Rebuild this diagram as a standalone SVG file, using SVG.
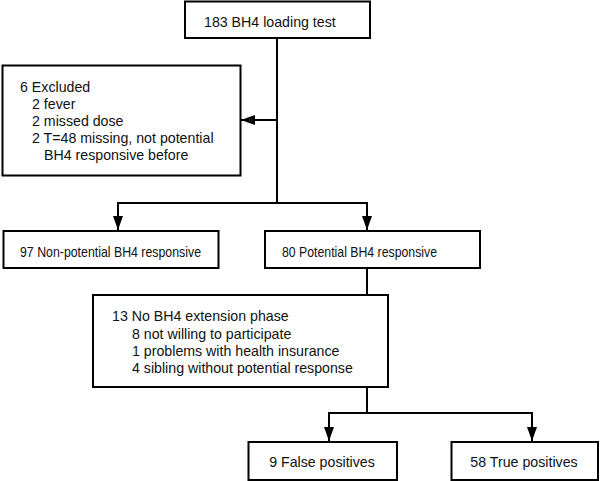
<svg xmlns="http://www.w3.org/2000/svg" width="600" height="481" viewBox="0 0 600 481">
<style>
.box{fill:#fff;stroke:#000;stroke-width:2}
.t{font-family:"Liberation Sans",Arial,sans-serif;font-size:14.2px;fill:#111}
.c{fill:none;stroke:#000;stroke-width:2}
</style>
<defs>
<marker id="ah" viewBox="0 0 14 10" refX="14" refY="5" markerWidth="14" markerHeight="10" markerUnits="userSpaceOnUse" orient="auto">
<path d="M0,0 L14,5 L0,10 Z" fill="#000"/>
</marker>
</defs>
<g id="connectors">
<line class="c" x1="277" y1="38" x2="277" y2="203"/>
<line class="c" x1="277" y1="120" x2="241" y2="120" marker-end="url(#ah)"/>
<polyline class="c" points="118,230 118,203 367,203 367,230"/>
<line class="c" x1="118" y1="210" x2="118" y2="230" marker-end="url(#ah)"/>
<line class="c" x1="367" y1="210" x2="367" y2="230" marker-end="url(#ah)"/>
<line class="c" x1="367" y1="268" x2="367" y2="413"/>
<line class="c" x1="367" y1="341" x2="388" y2="341" marker-end="url(#ah)"/>
<polyline class="c" points="329,441 329,413 532,413 532,441"/>
<line class="c" x1="329" y1="420" x2="329" y2="441" marker-end="url(#ah)"/>
<line class="c" x1="532" y1="420" x2="532" y2="441" marker-end="url(#ah)"/>
</g>
<g id="n1"><rect class="box" x="185" y="1.5" width="185" height="36.5"/><text class="t" x="204" y="27">183 BH4 loading test</text></g>
<g id="n2"><rect class="box" x="2.5" y="65.5" width="238" height="110"/>
<text class="t" x="20" y="92">6 Excluded</text>
<text class="t" x="32" y="108.5">2 fever</text>
<text class="t" x="32" y="125.5">2 missed dose</text>
<text class="t" x="32" y="142.5">2 T=48 missing, not potential</text>
<text class="t" x="44" y="159.5">BH4 responsive before</text></g>
<g id="n3"><rect class="box" x="3.5" y="231" width="215" height="37"/><text class="t" x="20" y="256.5" textLength="181" lengthAdjust="spacingAndGlyphs">97 Non-potential BH4 responsive</text></g>
<g id="n4"><rect class="box" x="265" y="231" width="215" height="37"/><text class="t" x="282" y="256.5" textLength="155" lengthAdjust="spacingAndGlyphs">80 Potential BH4 responsive</text></g>
<g id="n5"><rect class="box" x="93" y="295" width="295" height="92"/>
<text class="t" x="112" y="321">13 No BH4 extension phase</text>
<text class="t" x="132" y="338.5">8 not willing to participate</text>
<text class="t" x="132" y="356">1 problems with health insurance</text>
<text class="t" x="132" y="373">4 sibling without potential response</text></g>
<g id="n6"><rect class="box" x="248.5" y="442" width="148.5" height="38"/><text class="t" x="322" y="467" text-anchor="middle">9 False positives</text></g>
<g id="n7"><rect class="box" x="451.5" y="442" width="146.5" height="38"/><text class="t" x="524" y="467" text-anchor="middle">58 True positives</text></g>
</svg>
